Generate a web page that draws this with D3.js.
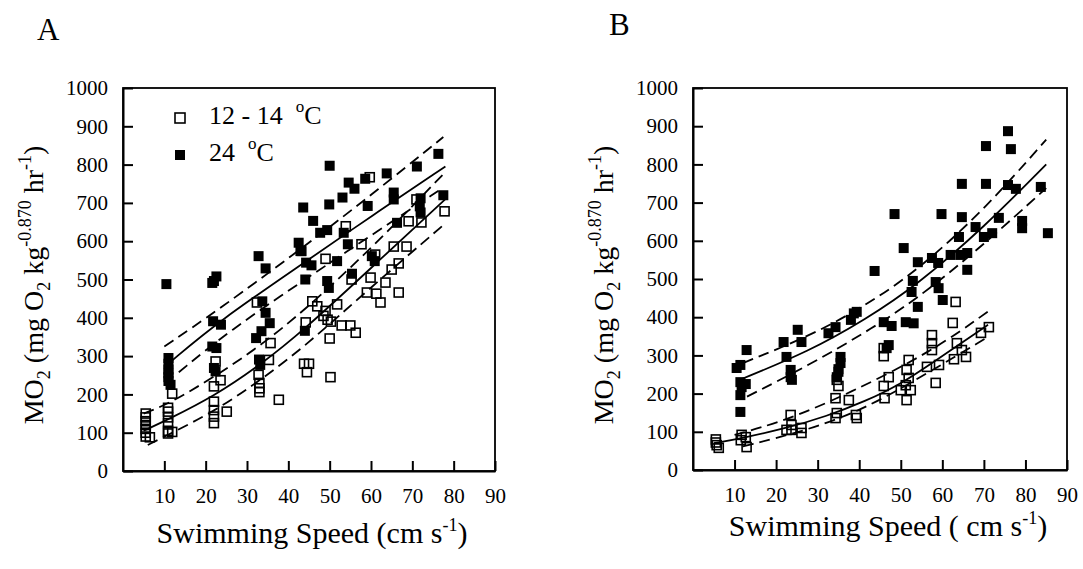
<!DOCTYPE html>
<html>
<head>
<meta charset="utf-8">
<script src="https://cdn.jsdelivr.net/npm/d3@7"></script>
<style>
  body { margin: 0; background: #fff; }
  .axis path, .axis line { stroke: #000; stroke-width: 2; }
  .axis text { font-size: 21px; fill: #000; }
  .frame { fill: none; stroke: #000; stroke-width: 1.8; }
  .fit { fill: none; stroke: #000; stroke-width: 1.8; }
  .ci { fill: none; stroke: #000; stroke-width: 1.8; stroke-dasharray: 11 6; }
  .open { fill: none; stroke: #000; stroke-width: 1.6; }
  .filled { fill: #000; }
</style>
</head>
<body>
<svg width="1083" height="569"></svg>
<script>
const FONT = '"Liberation Serif", "DejaVu Serif", "Times New Roman", serif'

// tick labels
const xTicks = [10, 20, 30, 40, 50, 60, 70, 80, 90]
const yTicks = [0, 100, 200, 300, 400, 500, 600, 700, 800, 900, 1000]
const seriesNames = ['12 - 14', '24']

// panel A, 12 - 14 oC (open squares) [speed, MO2]
const aColdPoints = [
  [5.5, 150], [5.5, 140], [5.5, 130], [5.5, 120], [5.5, 110], [5.5, 100], [5.5, 90], [6.5, 88],
  [10.9, 165], [10.9, 155], [10.9, 140], [10.9, 125], [10.9, 105], [11.9, 102], [10.9, 98], [11.9, 202],
  [22.4, 286], [23.6, 237], [22, 221], [22, 181], [22, 159], [22, 142], [22, 125], [25.1, 155],
  [32.4, 440], [32.8, 251], [33, 230], [33, 216], [33, 206], [35.7, 334], [35.3, 290], [37.7, 186],
  [43, 575], [44.2, 388], [43.8, 280], [45, 280], [44.5, 258], [45.8, 443], [47, 430], [49, 418],
  [48.5, 405], [49.5, 395], [50.3, 390], [52.9, 380], [55, 380], [56.3, 361], [50, 346], [50.2, 245],
  [49, 554], [51.8, 435], [55.3, 500], [57.7, 592], [61, 565], [59.9, 505], [63.5, 492], [59, 466],
  [61.3, 463], [62.3, 440], [66.7, 466], [65.5, 586], [68.6, 586], [66.7, 542], [65, 526], [59.7, 767],
  [53.9, 639], [71, 709], [69.1, 652], [72.2, 649], [77.8, 678]
]

// panel A, 24 oC (filled squares)
const aWarmPoints = [
  [10.5, 488], [11, 295], [11, 280], [11, 265], [11, 255], [11, 245], [11, 235], [11.5, 225],
  [21.6, 491], [22.6, 508], [22, 496], [21.8, 391], [23.7, 382], [21.6, 325], [22.6, 321], [22, 269], [22.4, 260],
  [32.8, 561], [34.5, 529], [33.7, 443], [34.5, 413], [35.5, 386], [33.5, 365], [32.2, 347], [32.9, 291], [33.2, 277],
  [42.5, 596], [43.2, 574], [43.6, 688], [46, 653], [44.3, 544], [45.6, 537], [44.1, 500], [44, 366],
  [47.7, 622], [49.4, 629], [50, 797], [49.9, 696], [51.8, 548], [49.4, 496], [49.8, 478], [53.1, 714],
  [54.6, 753], [56, 737], [53.4, 622], [54.4, 592], [55.4, 515], [58.6, 763], [63.8, 777], [59.2, 692],
  [60.2, 561], [60.9, 548], [65.5, 727], [65.5, 709], [71.1, 795], [76.3, 828], [77.5, 720], [72, 712],
  [71.8, 691], [72, 675], [66.3, 648]
]

// panel A fitted curves and 95% bands
const aColdFit = [[5, 105], [11, 135], [22, 195], [33, 275], [44, 370], [60, 530], [78, 710]]
const aColdUpper = [[5, 150], [11, 175], [22, 245], [33, 325], [44, 420], [60, 580], [77.5, 775]]
const aColdLower = [[6, 68], [11, 95], [22, 155], [33, 235], [44, 325], [60, 480], [77.5, 642]]
const aWarmFit = [[11.5, 285], [23, 390], [44, 545], [60, 665], [78, 795]]
const aWarmUpper = [[10, 325], [23, 420], [44, 587], [60, 720], [77.5, 872]]
const aWarmLower = [[13.5, 258], [25.6, 365], [44, 500], [60, 615], [77.5, 740]]

// panel B, 12 - 14 oC (open squares)
const bColdPoints = [
  [5.5, 80], [5.5, 72], [5.7, 65], [6.2, 58], [11.7, 92], [12.7, 86], [11.5, 78], [12.9, 60],
  [23.7, 118], [22.5, 105], [23.7, 105], [23.5, 144], [26.1, 110], [26.1, 97],
  [34.6, 236], [35, 220], [34.3, 188], [34.6, 149], [34.3, 136], [37.5, 183], [39.2, 144], [39.4, 136],
  [45.9, 319], [45.9, 298], [47.1, 243], [45.9, 220], [46.1, 188],
  [51.9, 288], [51.4, 262], [51.9, 241], [51.2, 222], [52.4, 209], [51.4, 183], [50, 209],
  [57.5, 353], [57.5, 332], [57.5, 314], [56.3, 270], [59.2, 275], [58.4, 228],
  [63.2, 440], [62.5, 385], [63.5, 332], [64.7, 314], [65.7, 296], [62.8, 290],
  [71.2, 374], [69.3, 359]
]

// panel B, 24 oC (filled squares)
const bWarmPoints = [
  [10.5, 267], [11.4, 275], [12.9, 314], [11.4, 230], [11.7, 217], [12.7, 225], [11.4, 196], [11.4, 152],
  [21.8, 335], [25.2, 367], [26.1, 335], [22.5, 296], [23.5, 262], [23.5, 243], [23.8, 236],
  [32.6, 358], [34.3, 374], [35.5, 296], [35.5, 280], [35, 264], [35, 257], [34.6, 243],
  [38.7, 410], [39.4, 414], [38, 393], [43.7, 521], [45.9, 387], [47.8, 377], [51.2, 387], [53.1, 384],
  [47.1, 327], [46.6, 319], [48.5, 670], [50.7, 581], [52.9, 495], [52.6, 466], [54.1, 427], [54.1, 544],
  [57.5, 555], [59, 542], [58.4, 492], [59.1, 476], [60.1, 445], [59.8, 670],
  [62, 563], [64.4, 563], [66, 568], [66, 524], [64, 610], [64.7, 662], [64.7, 749], [68, 636],
  [70, 610], [72, 620], [73.6, 660], [70.5, 749], [70.5, 848], [75.8, 887], [76.5, 840], [75.8, 746],
  [77.7, 736], [79.2, 652], [79.2, 633], [83.7, 741], [85.4, 620]
]

// panel B fitted curves and 95% bands
const bColdFit = [[5, 70], [12, 84], [22, 108], [32, 140], [41.5, 180], [50, 225], [57.5, 280], [71, 380]]
const bColdUpper = [[10, 92], [22, 128], [37.5, 200], [57.5, 310], [71, 415]]
const bColdLower = [[12, 62], [27, 102], [41.5, 160], [56.5, 254], [70.5, 345]]
const bWarmFit = [[11, 235], [28, 311], [41.5, 394], [54, 485], [70, 635], [85, 800]]
const bWarmUpper = [[12, 280], [28, 350], [41.5, 430], [54, 522], [70, 680], [85, 865]]
const bWarmLower = [[13, 192], [28, 275], [41.5, 360], [54, 448], [70, 590], [85, 738]]

const svg = d3.select('svg')

const panels = [
  { label: 'A', labelX: 37, labelY: 40, left: 123, right: 495, top: 88, bottom: 471, titleX: 43, xTitleX: 312, xTitleY: 543,
    xTitle: 'Swimming Speed (cm s', cold: aColdPoints, warm: aWarmPoints,
    lines: [aColdFit, aWarmFit], bands: [aColdUpper, aColdLower, aWarmUpper, aWarmLower], legend: true },
  { label: 'B', labelX: 609, labelY: 35, left: 693, right: 1067, top: 88, bottom: 470, titleX: 613, xTitleX: 888, xTitleY: 536,
    xTitle: 'Swimming Speed ( cm s', cold: bColdPoints, warm: bWarmPoints,
    lines: [bColdFit, bWarmFit], bands: [bColdUpper, bColdLower, bWarmUpper, bWarmLower], legend: false }
]

panels.forEach((p) => {
  const xScale = d3.scaleLinear().domain([0, 90]).range([p.left, p.right])
  const yScale = d3.scaleLinear().domain([0, 1000]).range([p.bottom, p.top])
  const g = svg.append('g')

  // box
  g.append('rect')
    .attr('class', 'frame')
    .attr('x', p.left)
    .attr('y', p.top)
    .attr('width', p.right - p.left)
    .attr('height', p.bottom - p.top)

  // axes, ticks point inward
  g.append('g')
    .attr('class', 'axis')
    .attr('transform', `translate(0, ${p.bottom})`)
    .call(d3.axisBottom(xScale).tickValues(xTicks).tickFormat(d3.format('d'))
      .tickSize(-10).tickSizeOuter(0).tickPadding(17))
    .attr('font-family', FONT)

  g.append('g')
    .attr('class', 'axis')
    .attr('transform', `translate(${p.left}, 0)`)
    .call(d3.axisLeft(yScale).tickValues(yTicks).tickFormat(d3.format('d'))
      .tickSize(-10).tickSizeOuter(0).tickPadding(15))
    .attr('font-family', FONT)

  // markers
  const size = 10
  g.append('g').selectAll('rect')
    .data(p.warm)
    .enter()
    .append('rect')
    .attr('class', 'filled')
    .attr('x', (d) => xScale(d[0]) - size / 2)
    .attr('y', (d) => yScale(d[1]) - size / 2)
    .attr('width', size)
    .attr('height', size)

  g.append('g').selectAll('rect')
    .data(p.cold)
    .enter()
    .append('rect')
    .attr('class', 'open')
    .attr('x', (d) => xScale(d[0]) - (size - 1) / 2)
    .attr('y', (d) => yScale(d[1]) - (size - 1) / 2)
    .attr('width', size - 1)
    .attr('height', size - 1)

  // regression curves
  const line = d3.line()
    .x((d) => xScale(d[0]))
    .y((d) => yScale(d[1]))
    .curve(d3.curveBasis)

  p.lines.forEach((l) => {
    g.append('path').attr('class', 'fit').attr('d', line(l))
  })
  p.bands.forEach((l) => {
    g.append('path').attr('class', 'ci').attr('d', line(l))
  })

  // panel letter
  svg.append('text')
    .attr('x', p.labelX)
    .attr('y', p.labelY)
    .attr('font-family', FONT)
    .style('font-size', '31px')
    .text(p.label)

  // x title
  const xt = svg.append('text')
    .attr('x', p.xTitleX)
    .attr('y', p.xTitleY)
    .attr('text-anchor', 'middle')
    .attr('font-family', FONT)
    .style('font-size', '30px')
  xt.append('tspan').text(p.xTitle)
  xt.append('tspan').attr('dy', -12).style('font-size', '18px').text('-1')
  xt.append('tspan').attr('dy', 12).text(')')

  // y title
  const yt = svg.append('text')
    .attr('transform', `translate(${p.titleX}, 285) rotate(-90)`)
    .attr('text-anchor', 'middle')
    .attr('font-family', FONT)
    .style('font-size', '28px')
  yt.append('tspan').text('MO')
  yt.append('tspan').attr('dy', 7).style('font-size', '18px').text('2')
  yt.append('tspan').attr('dy', -7).text(' (mg O')
  yt.append('tspan').attr('dy', 7).style('font-size', '18px').text('2')
  yt.append('tspan').attr('dy', -7).text(' kg')
  yt.append('tspan').attr('dy', -12).style('font-size', '18px').text('-0.870')
  yt.append('tspan').attr('dy', 12).text(' hr')
  yt.append('tspan').attr('dy', -12).style('font-size', '18px').text('-1')
  yt.append('tspan').attr('dy', 12).text(')')

  if (p.legend) {
    const lg = svg.append('g')
    seriesNames.forEach((name, i) => {
      const cy = 118 + i * 37
      lg.append('rect')
        .attr('class', i === 0 ? 'open' : 'filled')
        .attr('x', 180 - size / 2)
        .attr('y', cy - size / 2)
        .attr('width', size)
        .attr('height', size)
      const t = lg.append('text')
        .attr('x', 209)
        .attr('y', cy + 6)
        .attr('font-family', FONT)
        .style('font-size', '26px')
      t.append('tspan').text(name + '\u00a0\u00a0')
      t.append('tspan').attr('dy', -12).style('font-size', '17px').text('o')
      t.append('tspan').attr('dy', 12).text('C')
    })
  }
})
</script>
</body>
</html>
